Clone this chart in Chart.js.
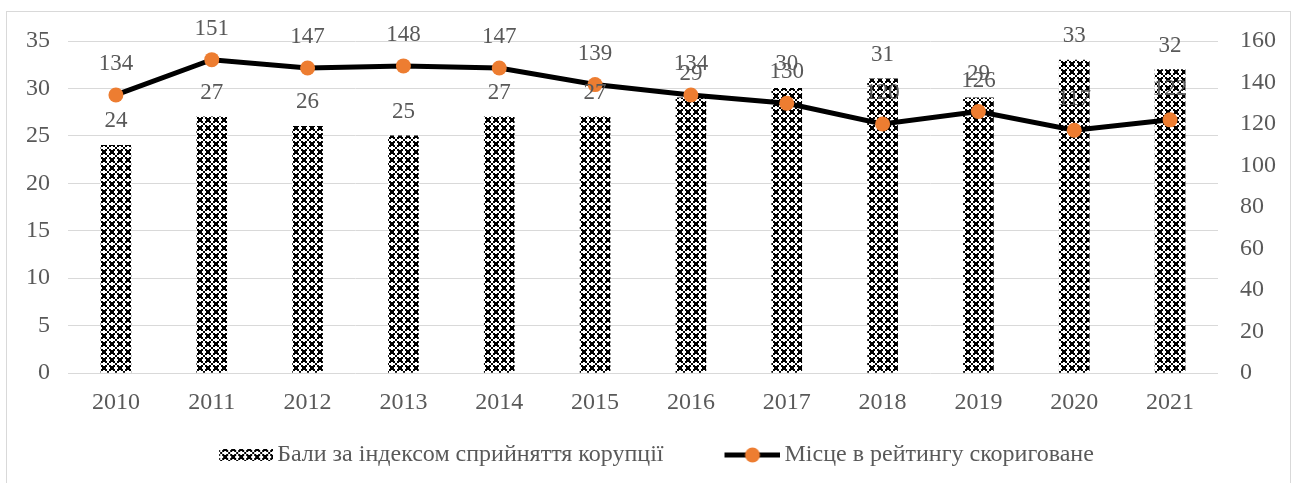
<!DOCTYPE html>
<html><head><meta charset="utf-8">
<script src="https://cdn.jsdelivr.net/npm/chart.js@4.4.1/dist/chart.umd.min.js"></script>
<style>
html,body{margin:0;padding:0;background:#fff;}
#wrap{position:relative;width:1295px;height:483px;overflow:hidden;}
#frame{position:absolute;left:6px;top:11px;width:1285px;height:520px;border:1px solid #D9D9D9;box-sizing:border-box;}
canvas{position:absolute;left:0;top:0;}
</style></head><body>
<div id="wrap"><div id="frame"></div><canvas id="c" width="1295" height="483"></canvas></div>
<script>
const years = ['2010','2011','2012','2013','2014','2015','2016','2017','2018','2019','2020','2021'];
const scores = [24,27,26,25,27,27,29,30,31,29,33,32];
const ranks = [134,151,147,148,147,139,134,130,120,126,117,122];
const seriesNames = ['Бали за індексом сприйняття корупції','Місце в рейтингу скориговане'];
const leftAxis = {min:0, max:35, step:5};
const rightAxis = {min:0, max:160, step:20};

const FONT = '"Liberation Serif", "Times New Roman", serif';
const TXT = '#595959';

function makePattern(){
  const rows = ['11000011','11100111','01100110','00011000','00011000','01100110','11100111','11000011'];
  const c = document.createElement('canvas'); c.width = 8; c.height = 8;
  const x = c.getContext('2d');
  x.fillStyle = '#fff'; x.fillRect(0,0,8,8);
  x.fillStyle = '#000';
  rows.forEach((r,yy)=>{ for(let xx=0;xx<8;xx++){ if(r[xx]==='1') x.fillRect(xx,yy,1,1);} });
  return c;
}
const patCanvas = makePattern();
const ctxMain = document.getElementById('c').getContext('2d');
const barPattern = ctxMain.createPattern(patCanvas,'repeat');

const LB = 80;           // legend box width
const LW = LB + 16;      // legend image width
function legendBarImg(){
  const c = document.createElement('canvas'); c.width = LW; c.height = 12;
  const x = c.getContext('2d');
  x.fillStyle = x.createPattern(patCanvas,'repeat');
  x.fillRect(LW-54,0,54,12);
  return c;
}
function legendLineImg(){
  const c = document.createElement('canvas'); c.width = LW; c.height = 16;
  const x = c.getContext('2d');
  x.strokeStyle = '#000'; x.lineWidth = 5;
  x.beginPath(); x.moveTo(LW-56,8); x.lineTo(LW,8); x.stroke();
  x.fillStyle = '#ED7D31'; x.beginPath(); x.arc(LW-28,8,7.5,0,Math.PI*2); x.fill();
  return c;
}
const legendImgs = [legendBarImg(), legendLineImg()];

const valueLabels = {
  id:'valueLabels',
  afterDatasetsDraw(chart){
    const ctx = chart.ctx;
    ctx.save();
    ctx.font = '23px ' + FONT;
    ctx.fillStyle = TXT;
    ctx.textAlign = 'center';
    ctx.textBaseline = 'middle';
    chart.data.datasets.forEach((ds,i)=>{
      const meta = chart.getDatasetMeta(i);
      meta.data.forEach((el,j)=>{
        const off = ds.type === 'bar' ? 24 : 31;
        ctx.fillText(String(ds.data[j]), el.x, el.y - off);
      });
    });
    ctx.restore();
  }
};

new Chart(document.getElementById('c'), {
  data: {
    labels: years,
    datasets: [
      { type:'line', label: seriesNames[1], data: ranks, yAxisID:'y1', order:0,
        borderColor:'#000', borderWidth:5, pointRadius:7.5, pointHoverRadius:7.5,
        pointBackgroundColor:'#ED7D31', pointBorderColor:'#ED7D31', pointBorderWidth:0, tension:0 },
      { type:'bar', label: seriesNames[0], data: scores, yAxisID:'y', order:1,
        backgroundColor: barPattern, borderWidth:0, barThickness:30 }
    ]
  },
  options: {
    responsive:false, animation:false, devicePixelRatio:1,
    layout:{ padding:{ top:41, bottom:6, left:0, right:16 } },
    plugins:{
      tooltip:{enabled:false},
      legend:{
        position:'bottom',
        labels:{
          usePointStyle:true, pointStyleWidth:LB, padding:29, color:TXT,
          font:{family:FONT, size:24},
          generateLabels(chart){
            return [
              {text:seriesNames[0], pointStyle:legendImgs[0], datasetIndex:1, fontColor:TXT, hidden:false, lineWidth:0, strokeStyle:'rgba(0,0,0,0)', fillStyle:'rgba(0,0,0,0)'},
              {text:seriesNames[1], pointStyle:legendImgs[1], datasetIndex:0, fontColor:TXT, hidden:false, lineWidth:0, strokeStyle:'rgba(0,0,0,0)', fillStyle:'rgba(0,0,0,0)'}
            ];
          }
        }
      }
    },
    scales:{
      x:{
        grid:{display:false, drawTicks:false}, border:{display:false},
        ticks:{color:TXT, font:{family:FONT, size:24}, padding:15.6, maxRotation:0, autoSkip:false},
        afterFit(s){ s.height = 41; }
      },
      y:{
        position:'left', min:leftAxis.min, max:leftAxis.max,
        ticks:{stepSize:leftAxis.step, color:TXT, font:{family:FONT, size:24}, padding:18},
        grid:{color:'#D9D9D9', lineWidth:1, drawTicks:false}, border:{display:false},
        afterFit(s){ s.width = 68; }
      },
      y1:{
        position:'right', min:rightAxis.min, max:rightAxis.max,
        ticks:{stepSize:rightAxis.step, color:TXT, font:{family:FONT, size:24}, padding:22},
        grid:{drawOnChartArea:false, drawTicks:false}, border:{display:false},
        afterFit(s){ s.width = 61; }
      }
    }
  },
  plugins:[valueLabels]
});
</script>
</body></html>
